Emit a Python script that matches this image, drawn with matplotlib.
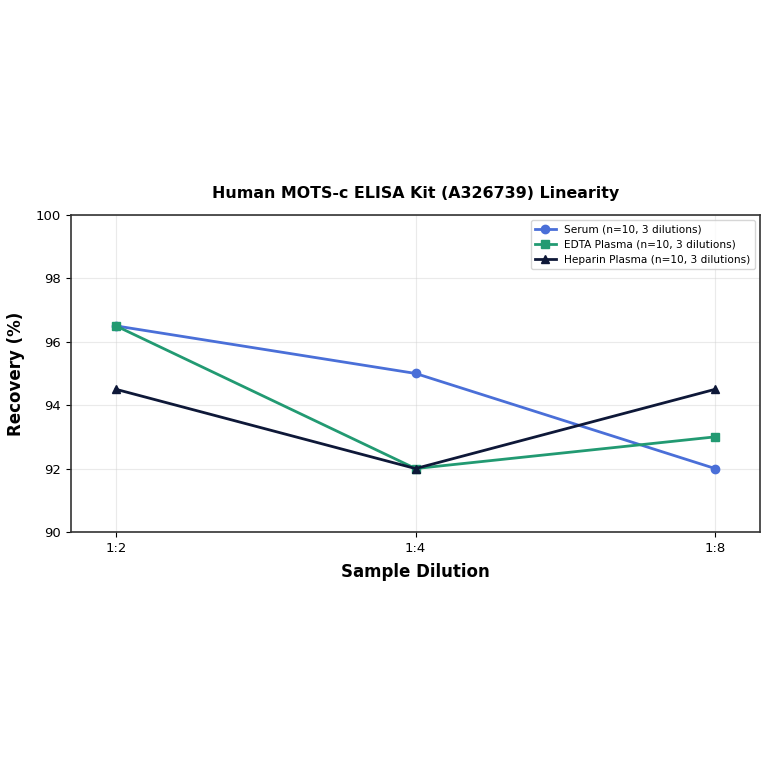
import matplotlib.pyplot as plt
import numpy as np

# Données
dilutions = ['1:2', '1:4', '1:8']
serum = [96.5, 95.0, 92.0]
edta = [96.5, 92.0, 93.0]
heparin = [94.5, 92.0, 94.5]

fig = plt.figure(figsize=(7.64, 7.64), dpi=100)
ax = fig.add_axes([0.0929, 0.3037, 0.902, 0.415])

x = np.arange(len(dilutions))
ax.plot(x, serum, marker='o', color='#4a6fd8', linewidth=2, markersize=6,
        label='Serum (n=10, 3 dilutions)')
ax.plot(x, edta, marker='s', color='#229a72', linewidth=2, markersize=6,
        label='EDTA Plasma (n=10, 3 dilutions)')
ax.plot(x, heparin, marker='^', color='#0e1838', linewidth=2, markersize=6,
        label='Heparin Plasma (n=10, 3 dilutions)')

ax.set_xticks(x)
ax.set_xticklabels(dilutions, fontsize=9.5)
ax.tick_params(axis='y', labelsize=9.5)
ax.set_xlim(-0.15, 2.15)
ax.set_ylim(90, 100)
ax.set_yticks([90, 92, 94, 96, 98, 100])

ax.set_xlabel('Sample Dilution', fontsize=12, fontweight='bold', labelpad=6)
ax.set_ylabel('Recovery (%)', fontsize=12, fontweight='bold', labelpad=8)
ax.set_title('Human MOTS-c ELISA Kit (A326739) Linearity', fontsize=11.4,
             fontweight='bold', pad=12)

ax.grid(True, color='#cccccc', alpha=0.4, linewidth=0.8)
for s in ax.spines.values():
    s.set_linewidth(1.2)
    s.set_color('#333333')

ax.legend(loc='upper right', fontsize=7.6)

fig.savefig('out.png', dpi=100)
